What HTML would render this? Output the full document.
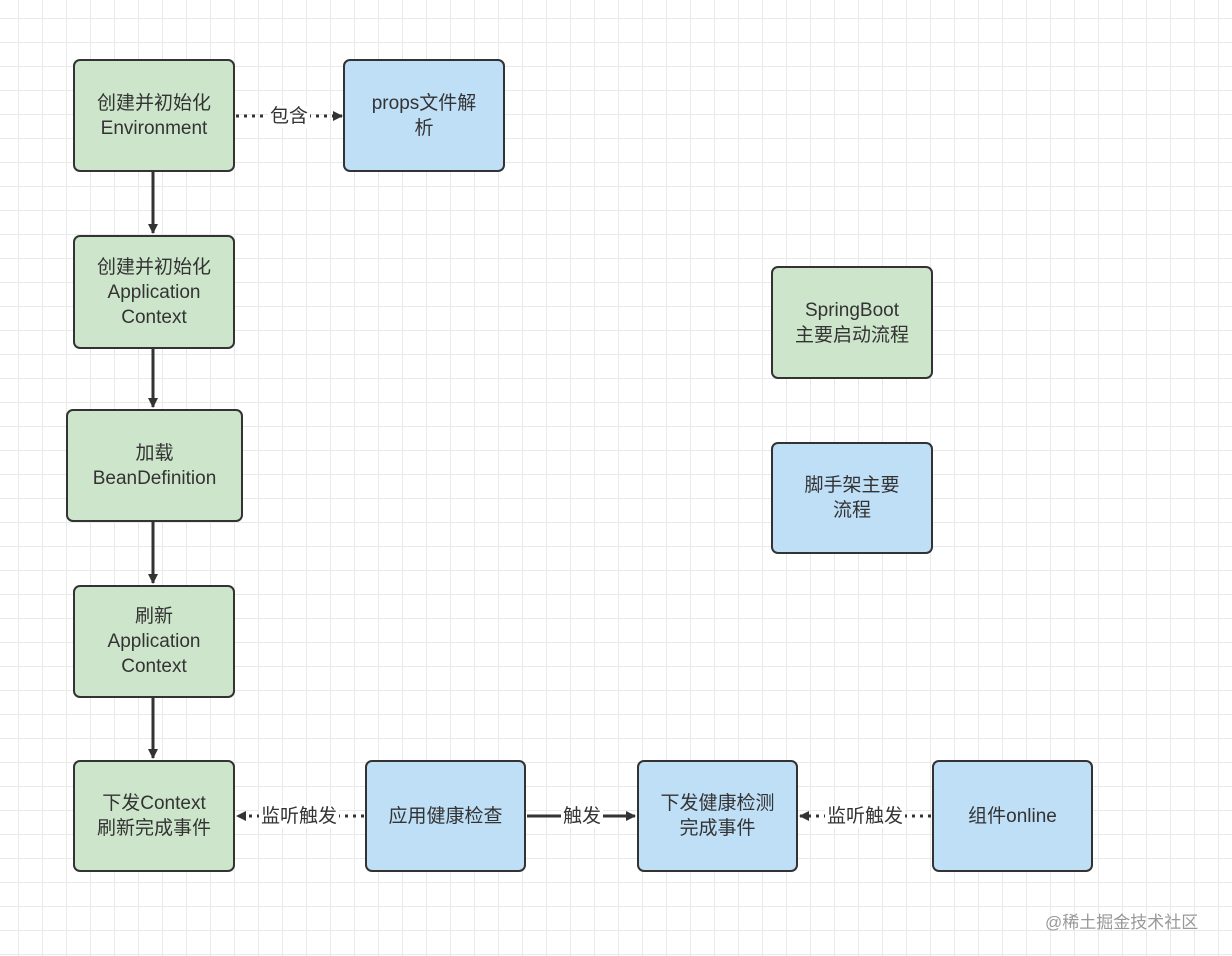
<!DOCTYPE html>
<html><head><meta charset="utf-8"><style>
body{margin:0;width:1232px;height:956px;overflow:hidden;background:#fff;
background-image:linear-gradient(#e9e9e9 1px,transparent 1px),linear-gradient(90deg,#e9e9e9 1px,transparent 1px);
background-size:24px 24px;background-position:18px 18px;
font-family:"Liberation Sans","Noto Sans CJK SC",sans-serif;}
.b{position:absolute;box-sizing:border-box;border:2.5px solid #333;border-radius:7px;display:flex;align-items:center;justify-content:center;text-align:center;font-size:19px;line-height:25px;color:#333;}
.g{background:#cde6cb}.u{background:#bfdff7}
.l{position:absolute;font-size:19px;color:#333;background:#fff;line-height:22px;padding:0 2px}
svg{position:absolute;left:0;top:0}
</style></head><body>
<svg width="1232" height="956">
<defs><marker id="a" markerWidth="10" markerHeight="10" refX="9" refY="5" orient="auto" markerUnits="userSpaceOnUse" viewBox="0 0 10 10"><path d="M0,0L10,5L0,10z" fill="#333"/></marker></defs>
<g stroke="#333" stroke-width="3" fill="none">
<line x1="153" y1="172" x2="153" y2="233" marker-end="url(#a)"/>
<line x1="153" y1="349" x2="153" y2="407" marker-end="url(#a)"/>
<line x1="153" y1="522" x2="153" y2="583" marker-end="url(#a)"/>
<line x1="153" y1="698" x2="153" y2="758" marker-end="url(#a)"/>
<line x1="236" y1="116" x2="342" y2="116" stroke-dasharray="3 5" marker-end="url(#a)"/>
<line x1="364" y1="816" x2="237" y2="816" stroke-dasharray="3 5" marker-end="url(#a)"/>
<line x1="527" y1="816" x2="635" y2="816" marker-end="url(#a)"/>
<line x1="931" y1="816" x2="800" y2="816" stroke-dasharray="3 5" marker-end="url(#a)"/>
</g></svg>
<div class="l" style="left:268px;top:106px">包含</div>
<div class="l" style="left:259px;top:806px">监听触发</div>
<div class="l" style="left:561px;top:806px">触发</div>
<div class="l" style="left:825px;top:806px">监听触发</div>
<div class="b g" style="left:73px;top:59px;width:162px;height:113px">创建并初始化<br>Environment</div>
<div class="b u" style="left:343px;top:59px;width:162px;height:113px">props文件解<br>析</div>
<div class="b g" style="left:73px;top:235px;width:162px;height:114px">创建并初始化<br>Application<br>Context</div>
<div class="b g" style="left:66px;top:409px;width:177px;height:113px">加载<br>BeanDefinition</div>
<div class="b g" style="left:73px;top:585px;width:162px;height:113px">刷新<br>Application<br>Context</div>
<div class="b g" style="left:73px;top:760px;width:162px;height:112px">下发Context<br>刷新完成事件</div>
<div class="b u" style="left:365px;top:760px;width:161px;height:112px">应用健康检查</div>
<div class="b u" style="left:637px;top:760px;width:161px;height:112px">下发健康检测<br>完成事件</div>
<div class="b u" style="left:932px;top:760px;width:161px;height:112px">组件online</div>
<div class="b g" style="left:771px;top:266px;width:162px;height:113px">SpringBoot<br>主要启动流程</div>
<div class="b u" style="left:771px;top:442px;width:162px;height:112px">脚手架主要<br>流程</div>
<div style="position:absolute;left:1045px;top:908px;font-size:17px;color:#999">@稀土掘金技术社区</div>
</body></html>
